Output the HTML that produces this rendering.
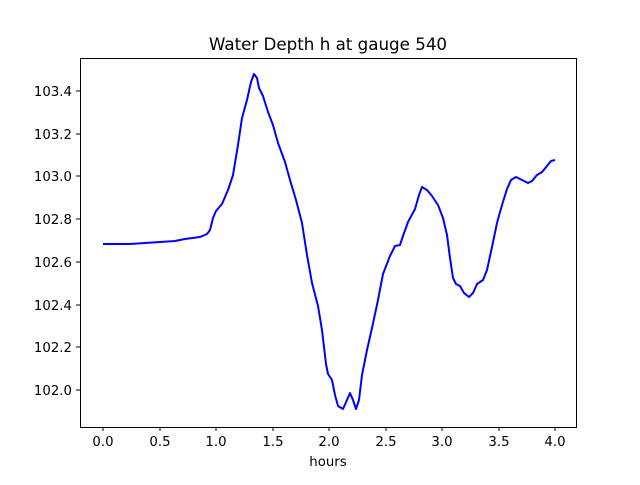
<!DOCTYPE html>
<html><head><meta charset="utf-8"><style>
body{margin:0;background:#fff}
svg text{font-family:"DejaVu Sans","Liberation Sans",sans-serif;fill:#000}
</style></head><body>
<svg width="640" height="480" viewBox="0 0 640 480" xmlns="http://www.w3.org/2000/svg">
<rect width="640" height="480" fill="#fff"/>
<text x="328" y="50" font-size="16.7" text-anchor="middle">Water Depth h at gauge 540</text>
<polyline fill="none" stroke="#0000ff" stroke-width="2" stroke-linejoin="round" points="103,244 130,244 160,242 175,241 185,239 200,237 207,234 210,230 213,218 216,211 222,204 228,190 233,175 238,145 242,118 247,100 251,82 254,74 257,78 259,88 263,96 268,112 273,125 278,143 285,162 290,180 296,200 302,223 307,255 312,283 318,306 322,330 326,364 328,374 332,380 335,395 338,406 343,409 347,400 350,393 353,400 356,409 359,400 362,375 367,350 372,328 378,300 383,274 390,256 395,246 400,245 403,236 408,222 415,209 419,195 422,187 427,190 432,196 438,205 443,218 447,235 450,258 453,278 456,284 460,286 464,293 469,297 473,293 477,284 483,280 487,270 492,247 497,223 502,205 507,189 511,180 516,177 522,180 528,183 532,181 537,175 542,172 547,166 551,161 555,160"/>
<rect x="80.5" y="58.5" width="496" height="369" fill="none" stroke="#000" stroke-width="1"/>
<g stroke="#000" stroke-width="1">
<line x1="103" y1="427" x2="103" y2="431"/><line x1="160" y1="427" x2="160" y2="431"/><line x1="216" y1="427" x2="216" y2="431"/><line x1="273" y1="427" x2="273" y2="431"/><line x1="329" y1="427" x2="329" y2="431"/><line x1="386" y1="427" x2="386" y2="431"/><line x1="442" y1="427" x2="442" y2="431"/><line x1="499" y1="427" x2="499" y2="431"/><line x1="555" y1="427" x2="555" y2="431"/>
<line x1="76" y1="91" x2="80" y2="91"/><line x1="76" y1="134" x2="80" y2="134"/><line x1="76" y1="176" x2="80" y2="176"/><line x1="76" y1="219" x2="80" y2="219"/><line x1="76" y1="262" x2="80" y2="262"/><line x1="76" y1="305" x2="80" y2="305"/><line x1="76" y1="347" x2="80" y2="347"/><line x1="76" y1="390" x2="80" y2="390"/>
</g>
<g font-size="13.3" text-anchor="middle">
<text x="103" y="446">0.0</text><text x="160" y="446">0.5</text><text x="216" y="446">1.0</text><text x="273" y="446">1.5</text><text x="329" y="446">2.0</text><text x="386" y="446">2.5</text><text x="442" y="446">3.0</text><text x="499" y="446">3.5</text><text x="555" y="446">4.0</text>
<text x="328" y="466">hours</text>
</g>
<g font-size="13.3" text-anchor="end">
<text x="72" y="96">103.4</text><text x="72" y="139">103.2</text><text x="72" y="181">103.0</text><text x="72" y="224">102.8</text><text x="72" y="267">102.6</text><text x="72" y="310">102.4</text><text x="72" y="352">102.2</text><text x="72" y="395">102.0</text>
</g>
</svg>
</body></html>
